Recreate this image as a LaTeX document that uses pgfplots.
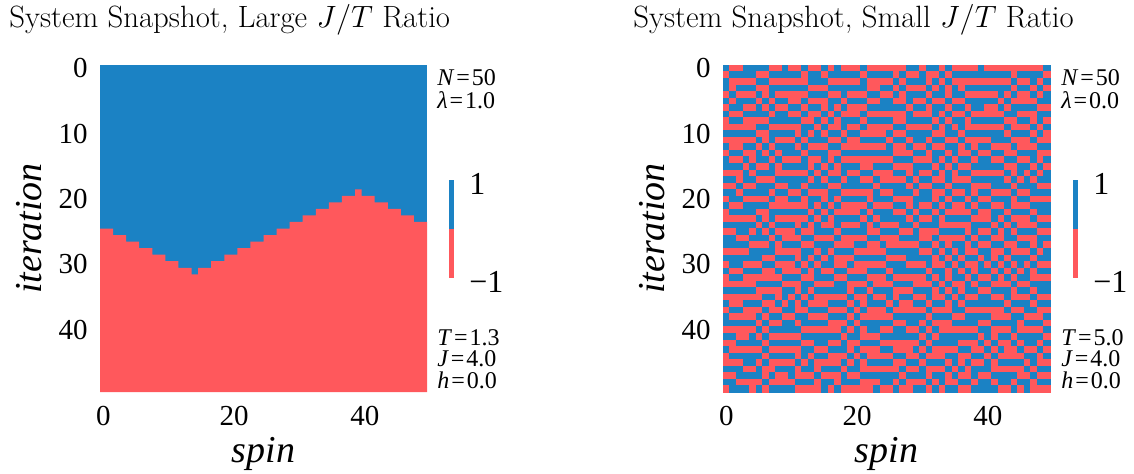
\documentclass[border=0pt]{standalone}
\usepackage{fix-cm}
\usepackage{fontspec}
\usepackage{pgfplots}
\usepackage{pgfplotstable}
\pgfplotsset{compat=1.18}
\newfontfamily\tms{Liberation Serif}
\definecolor{spinblue}{RGB}{27,130,196}
\definecolor{spinred}{RGB}{255,88,92}

% small J/T run: one line per iteration, one column per spin
\pgfplotstableread[header=false]{
1 -1 -1 1 1 1 1 -1 -1 1 -1 -1 1 -1 -1 1 -1 1 -1 -1 -1 1 -1 -1 -1 -1 -1 -1 1 1 -1 1 1 -1 1 -1 -1 -1 -1 1 -1 -1 -1 -1 -1 -1 -1 -1 -1 1
-1 1 1 1 1 -1 -1 1 1 1 1 1 -1 1 1 -1 1 1 1 1 1 -1 1 1 1 1 -1 1 -1 -1 1 -1 -1 1 -1 1 1 1 1 1 1 1 1 1 -1 1 1 1 1 -1
1 -1 -1 -1 -1 1 1 -1 -1 -1 -1 -1 -1 1 1 1 -1 -1 -1 -1 -1 1 -1 -1 -1 -1 1 -1 1 1 1 -1 1 -1 1 -1 -1 -1 -1 -1 -1 -1 -1 -1 1 -1 -1 1 -1 1
1 -1 1 1 1 -1 -1 1 1 1 1 1 1 -1 -1 -1 1 1 1 1 1 1 -1 -1 1 1 -1 1 -1 -1 -1 1 -1 1 -1 1 -1 1 1 1 1 1 1 1 -1 1 1 -1 1 -1
-1 1 -1 -1 -1 1 -1 1 -1 -1 -1 -1 -1 1 1 1 -1 -1 1 -1 -1 -1 1 1 -1 -1 1 -1 1 1 1 -1 1 1 -1 1 1 -1 -1 -1 -1 -1 1 -1 1 -1 -1 1 -1 1
1 -1 1 1 1 -1 1 -1 1 1 -1 -1 1 -1 -1 -1 1 1 -1 1 1 1 -1 -1 1 1 -1 -1 1 -1 -1 1 -1 -1 1 -1 -1 1 1 1 1 1 -1 1 -1 -1 -1 -1 1 1
-1 1 1 -1 -1 1 -1 1 -1 -1 1 1 -1 1 1 -1 1 -1 1 -1 -1 -1 1 1 1 1 1 1 -1 1 1 -1 1 1 -1 1 1 -1 1 1 -1 -1 1 -1 1 1 1 1 -1 -1
1 -1 -1 1 1 1 1 -1 1 1 -1 -1 1 -1 -1 1 -1 1 -1 -1 -1 1 -1 -1 -1 -1 -1 -1 1 -1 -1 -1 1 -1 1 -1 -1 1 -1 -1 -1 -1 -1 1 1 -1 -1 -1 1 1
-1 1 1 -1 -1 -1 -1 1 1 1 1 1 -1 -1 1 -1 1 -1 1 1 1 -1 1 1 1 1 -1 -1 1 1 1 1 -1 1 -1 1 1 -1 1 1 1 1 1 -1 -1 1 1 -1 1 -1
-1 -1 -1 -1 -1 1 1 -1 -1 -1 -1 -1 1 1 -1 1 -1 -1 1 -1 -1 1 -1 -1 -1 -1 1 1 -1 -1 -1 -1 1 -1 1 -1 1 -1 -1 -1 -1 -1 -1 1 -1 -1 -1 1 -1 1
1 1 1 1 1 -1 -1 1 1 1 1 -1 1 -1 1 -1 1 1 -1 1 1 -1 -1 -1 -1 1 -1 -1 1 1 1 1 -1 -1 1 1 -1 1 1 1 1 1 1 -1 1 1 1 -1 1 -1
-1 -1 -1 -1 -1 1 -1 1 -1 -1 -1 1 -1 1 1 1 -1 -1 1 -1 -1 1 1 1 1 -1 1 1 -1 1 1 -1 1 1 -1 -1 1 -1 -1 -1 -1 1 1 1 -1 -1 -1 1 -1 -1
1 -1 -1 1 1 -1 1 -1 1 1 1 -1 1 -1 -1 -1 1 1 -1 -1 -1 -1 -1 -1 -1 1 -1 -1 1 -1 -1 1 -1 -1 1 1 -1 1 -1 1 1 -1 -1 -1 1 -1 -1 -1 1 1
-1 1 1 -1 -1 1 -1 1 -1 1 1 1 -1 1 1 1 -1 -1 1 1 1 1 1 1 1 1 -1 -1 -1 1 1 -1 1 1 -1 1 -1 -1 1 -1 -1 1 1 -1 -1 1 1 1 -1 -1
1 -1 -1 1 -1 1 1 -1 1 -1 -1 -1 1 -1 -1 1 -1 1 -1 -1 -1 -1 -1 -1 -1 -1 1 1 1 -1 -1 -1 1 -1 1 -1 1 1 -1 1 1 -1 -1 1 1 -1 -1 1 -1 1
1 1 1 -1 1 -1 -1 1 -1 1 1 1 1 -1 1 -1 1 -1 1 1 1 -1 -1 1 1 1 -1 -1 -1 1 1 1 -1 1 -1 1 -1 -1 1 1 1 1 1 -1 -1 1 1 -1 1 -1
-1 -1 -1 1 -1 1 1 1 -1 -1 -1 -1 -1 1 -1 1 -1 -1 1 -1 -1 1 1 -1 -1 -1 1 1 -1 1 -1 -1 1 -1 1 -1 1 1 -1 -1 -1 -1 -1 1 -1 1 -1 1 -1 1
1 1 -1 1 1 -1 -1 -1 1 1 1 1 1 -1 1 -1 1 1 -1 1 1 -1 -1 1 -1 -1 -1 -1 1 -1 1 1 -1 -1 1 -1 -1 -1 1 1 1 1 1 -1 1 -1 1 -1 1 1
-1 -1 1 -1 -1 1 1 1 -1 -1 1 1 -1 1 1 1 -1 -1 1 1 1 1 1 -1 1 1 1 1 -1 1 -1 -1 1 1 -1 1 1 1 -1 -1 -1 1 1 1 -1 1 1 1 -1 -1
1 1 -1 1 1 1 1 -1 1 1 -1 -1 1 -1 -1 -1 1 1 -1 -1 -1 -1 -1 1 -1 -1 1 1 1 -1 1 1 -1 -1 1 -1 -1 1 -1 1 1 -1 -1 -1 1 -1 -1 1 1 1
-1 1 1 -1 -1 -1 -1 1 -1 -1 1 1 -1 1 1 -1 1 -1 1 1 1 1 -1 1 1 1 -1 -1 -1 1 1 1 -1 1 -1 1 1 -1 1 -1 -1 1 1 1 -1 1 1 -1 -1 -1
1 -1 -1 1 1 1 1 -1 -1 -1 -1 -1 -1 1 -1 1 -1 1 -1 -1 -1 -1 1 -1 -1 -1 1 1 -1 1 -1 -1 1 -1 1 -1 -1 1 -1 1 1 -1 -1 1 -1 -1 -1 1 1 1
-1 1 1 1 1 -1 -1 1 1 1 1 1 1 -1 1 -1 1 -1 -1 -1 -1 1 -1 1 1 1 -1 -1 1 -1 1 1 -1 1 -1 -1 -1 -1 1 -1 -1 1 1 -1 1 1 1 -1 1 1
-1 -1 -1 -1 -1 1 -1 1 -1 -1 -1 -1 -1 1 -1 1 -1 1 1 1 1 -1 1 -1 1 1 1 1 -1 1 -1 -1 1 -1 1 1 1 1 -1 -1 -1 1 -1 1 -1 -1 -1 1 -1 -1
1 1 1 1 1 -1 1 -1 1 1 1 -1 1 -1 1 -1 -1 1 -1 -1 -1 1 -1 1 -1 -1 -1 1 1 -1 1 1 1 -1 -1 -1 -1 -1 1 1 1 -1 1 -1 1 -1 -1 -1 1 1
-1 -1 1 1 -1 1 -1 1 -1 -1 -1 1 -1 -1 1 1 1 -1 1 1 1 1 -1 -1 1 1 1 -1 -1 1 -1 -1 -1 1 1 1 1 -1 1 -1 -1 1 -1 1 -1 1 1 1 -1 -1
1 1 -1 -1 1 1 1 -1 1 -1 -1 -1 1 1 -1 -1 -1 1 -1 -1 -1 -1 1 1 -1 -1 -1 1 1 1 -1 -1 1 -1 -1 -1 -1 1 -1 1 1 -1 -1 1 1 -1 -1 -1 1 1
1 1 1 1 -1 -1 -1 1 -1 1 1 1 -1 -1 1 1 1 -1 -1 -1 1 1 -1 -1 1 -1 -1 -1 -1 -1 1 1 -1 1 -1 1 1 -1 1 -1 -1 1 1 -1 -1 1 1 -1 1 -1
-1 -1 -1 -1 1 1 1 1 -1 -1 -1 -1 1 1 -1 1 -1 1 1 1 -1 -1 -1 -1 -1 1 1 1 1 1 -1 -1 1 -1 1 -1 1 -1 -1 1 1 -1 -1 1 -1 -1 -1 1 -1 1
1 1 1 1 1 1 -1 -1 1 1 1 -1 1 -1 1 -1 1 -1 -1 -1 1 1 1 1 1 -1 -1 -1 1 1 1 1 -1 1 -1 1 -1 1 1 -1 1 -1 1 -1 1 1 1 -1 1 1
-1 1 1 -1 -1 -1 1 1 -1 -1 -1 1 -1 1 -1 1 1 -1 -1 1 -1 -1 -1 -1 -1 1 1 1 -1 -1 -1 1 -1 -1 1 -1 1 -1 -1 1 -1 1 -1 1 -1 1 -1 1 -1 -1
1 -1 -1 1 1 1 -1 -1 1 -1 -1 -1 1 -1 1 -1 -1 1 1 -1 -1 -1 1 1 1 -1 1 1 1 1 1 -1 1 1 -1 1 -1 1 -1 1 1 -1 1 -1 1 -1 1 -1 1 1
-1 1 1 -1 -1 -1 -1 -1 -1 1 1 1 -1 -1 1 1 1 -1 -1 1 1 1 -1 -1 -1 1 -1 -1 -1 -1 -1 1 -1 1 -1 1 1 -1 1 -1 -1 1 -1 1 -1 1 1 -1 -1 -1
-1 -1 -1 -1 -1 1 1 1 1 -1 -1 -1 1 1 -1 -1 -1 1 1 -1 -1 -1 1 -1 -1 -1 1 1 1 -1 -1 -1 1 -1 1 -1 -1 1 -1 1 1 -1 -1 -1 1 -1 -1 1 1 1
1 1 1 1 1 -1 -1 -1 -1 1 1 -1 1 -1 1 1 1 1 1 -1 1 1 -1 1 1 1 -1 -1 -1 1 1 1 -1 1 -1 1 -1 1 1 -1 -1 1 1 1 -1 1 1 -1 1 1
-1 -1 -1 -1 -1 -1 1 1 -1 1 -1 1 -1 1 -1 -1 -1 -1 -1 1 -1 -1 1 -1 -1 1 -1 1 1 -1 -1 1 -1 -1 1 -1 1 -1 -1 1 1 -1 -1 1 -1 -1 -1 1 -1 -1
1 -1 -1 1 1 1 -1 -1 1 -1 1 -1 1 -1 -1 -1 1 1 1 -1 1 -1 1 1 1 -1 1 -1 -1 1 1 -1 1 1 -1 1 -1 1 1 1 1 1 1 -1 1 1 1 -1 1 1
-1 1 1 -1 -1 -1 1 -1 -1 1 1 -1 -1 1 1 1 -1 -1 -1 1 -1 1 -1 -1 -1 1 -1 -1 -1 -1 -1 1 -1 -1 -1 1 1 -1 -1 -1 -1 -1 -1 1 -1 -1 1 1 -1 -1
1 -1 -1 -1 -1 1 -1 1 1 -1 -1 1 1 -1 -1 -1 1 1 1 -1 1 -1 -1 -1 -1 -1 1 1 1 1 1 -1 1 1 1 -1 -1 1 1 1 1 -1 -1 -1 1 1 -1 -1 -1 1
1 1 1 1 1 -1 1 -1 -1 1 1 -1 1 1 1 1 -1 -1 -1 1 -1 1 1 1 1 1 -1 -1 1 1 -1 1 -1 -1 -1 1 1 1 1 -1 -1 1 1 1 1 -1 1 1 1 -1
-1 -1 -1 -1 -1 1 -1 1 1 1 1 1 -1 -1 -1 -1 -1 -1 1 -1 1 -1 1 1 -1 -1 1 1 -1 -1 1 -1 1 -1 -1 -1 -1 -1 -1 1 1 -1 -1 -1 1 -1 -1 -1 -1 1
1 1 -1 -1 1 -1 1 -1 -1 -1 -1 -1 1 1 1 1 1 1 -1 1 1 -1 -1 -1 1 1 1 1 1 1 -1 1 -1 1 1 1 1 1 1 -1 1 -1 1 1 -1 1 1 1 1 -1
-1 -1 1 1 1 1 -1 1 1 1 1 1 -1 -1 1 1 -1 -1 1 -1 -1 1 1 1 -1 -1 -1 -1 -1 -1 1 -1 1 1 1 1 -1 -1 -1 1 -1 1 -1 -1 1 -1 1 1 -1 1
1 -1 -1 -1 -1 -1 1 -1 -1 -1 -1 -1 1 1 -1 -1 1 1 1 -1 1 -1 -1 -1 1 1 -1 -1 -1 1 -1 1 -1 -1 -1 -1 1 1 -1 -1 1 -1 1 -1 -1 1 -1 -1 1 -1
-1 1 1 1 1 1 -1 1 1 1 1 -1 1 -1 1 1 -1 -1 -1 1 -1 1 -1 -1 -1 -1 1 1 -1 -1 1 -1 -1 -1 1 1 -1 -1 1 1 -1 1 -1 -1 -1 -1 1 1 -1 1
-1 -1 -1 1 1 -1 1 -1 -1 -1 -1 1 -1 1 -1 -1 -1 -1 1 -1 1 -1 1 1 1 1 -1 -1 1 1 -1 1 1 1 -1 1 -1 1 -1 -1 1 -1 1 1 1 1 -1 1 -1 -1
1 1 1 -1 -1 1 -1 -1 1 1 1 -1 1 1 -1 1 1 1 -1 1 1 -1 -1 -1 -1 -1 -1 1 -1 -1 1 -1 -1 -1 1 -1 1 -1 1 1 1 -1 -1 -1 -1 -1 1 -1 1 1
-1 -1 1 1 1 1 -1 1 -1 -1 1 -1 -1 -1 1 -1 -1 -1 1 -1 -1 1 1 1 1 1 1 -1 1 1 1 -1 1 1 -1 1 -1 -1 1 -1 -1 1 1 1 1 -1 -1 1 -1 -1
1 1 -1 -1 -1 -1 1 -1 -1 -1 -1 1 1 1 -1 1 1 -1 1 1 1 -1 -1 -1 1 1 -1 1 -1 -1 -1 1 -1 1 -1 -1 1 1 -1 1 1 -1 1 1 -1 1 1 -1 1 1
-1 1 1 1 -1 1 -1 1 1 1 1 -1 -1 -1 -1 1 -1 1 -1 -1 -1 -1 -1 1 -1 -1 1 -1 -1 1 1 -1 1 -1 1 1 -1 -1 1 1 1 1 -1 -1 1 -1 1 -1 -1 -1
}\spinsR

\pgfplotsset{
  snap/.style={
    scale only axis, width=163.5pt, height=163.5pt,
    xmin=-0.5, xmax=49.5, ymin=-0.5, ymax=49.5, y dir=reverse,
    axis line style={draw=none}, tick style={draw=none}, major tick length=0pt,
    xtick={0,20,40}, ytick={0,10,20,30,40},
    /pgf/number format/assume math mode=true,
    tick label style={font=\tms\fontsize{14.5}{16}\selectfont, inner sep=0pt},
    xticklabel style={anchor=base, yshift=-16.5pt},
    yticklabel style={anchor=east, xshift=-6pt},
    xlabel={spin}, ylabel={iteration},
    label style={font=\tms\itshape\fontsize{19}{22}\selectfont, inner sep=0pt},
    xlabel style={at={(axis description cs:0.5,-0.2141)}, anchor=base},
    ylabel style={at={(axis description cs:-0.2171,0.5)}, anchor=center},
    colormap={spin}{rgb255=(255,88,92) rgb255=(27,130,196)},
    point meta min=-1, point meta max=1,
  },
  cbar/.style={
    scale only axis, width=2.5pt, height=49pt,
    xmin=0, xmax=1, ymin=-1, ymax=1,
    axis line style={draw=none}, tick style={draw=none}, major tick length=0pt,
    xtick=\empty, ytick={-1,1}, yticklabels={−1,1}, yticklabel pos=right,
    yticklabel style={font=\tms\fontsize{16}{18}\selectfont, anchor=west,
      inner sep=0pt, xshift=7.5pt, yshift=-2pt},
  },
}
\newcommand\eqs{\hspace{0.08em}=\hspace{0.08em}}

\begin{document}
\begin{tikzpicture}
\useasboundingbox (0,0) rectangle (567pt,-236.5pt);

% ---- left: large J/T ----
\begin{axis}[snap, at={(50pt,-32.5pt)}, anchor=north west]
\addplot[fill=spinblue, draw=none] coordinates {(-0.5,-0.5) (49.5,-0.5) (49.5,49.5) (-0.5,49.5)};
% domain wall: first red row of each column (cell edges)
\addplot[const plot, fill=spinred, draw=none] coordinates {
  (-0.5,24.5) (1.5,25.5) (3.5,26.5) (5.5,27.5) (7.5,28.5) (9.5,29.5)
  (11.5,30.5) (13.5,31.5) (14.5,30.5) (16.5,29.5) (18.5,28.5) (20.5,27.5)
  (22.5,26.5) (24.5,25.5) (26.5,24.5) (28.5,23.5) (30.5,22.5) (32.5,21.5)
  (34.5,20.5) (36.5,19.5) (38.5,18.5) (39.5,19.5) (41.5,20.5) (43.5,21.5)
  (45.5,22.5) (47.5,23.5) (49.5,23.5) (49.5,49.5) (-0.5,49.5)};
\end{axis}
\begin{axis}[cbar, at={(224.5pt,-90pt)}, anchor=north west]
\addplot[fill=spinred, draw=none] coordinates {(0,-1) (1,-1) (1,0) (0,0)};
\addplot[fill=spinblue, draw=none] coordinates {(0,0) (1,0) (1,1) (0,1)};
\end{axis}

% ---- right: small J/T ----
\begin{axis}[snap, at={(361.5pt,-32.5pt)}, anchor=north west]
\pgfplotsinvokeforeach{0,...,49}{
  \addplot[scatter, only marks, mark=square*, mark size=1.6pt, line width=0.2pt,
    point meta=explicit,
    scatter/use mapped color={draw=mapped color, fill=mapped color}]
    table[x expr=#1, y expr=\coordindex, meta index=#1] {\spinsR};
}
\end{axis}
\begin{axis}[cbar, at={(536.5pt,-90pt)}, anchor=north west]
\addplot[fill=spinred, draw=none] coordinates {(0,-1) (1,-1) (1,0) (0,0)};
\addplot[fill=spinblue, draw=none] coordinates {(0,0) (1,0) (1,1) (0,1)};
\end{axis}

% titles
\node[anchor=base west, inner sep=0pt, font=\fontsize{15.4}{18}\selectfont]
  at (4.5pt,-13.5pt) {System Snapshot, Large $J/T$ Ratio};
\node[anchor=base west, inner sep=0pt, font=\fontsize{15.4}{18}\selectfont]
  at (316.5pt,-13.5pt) {System Snapshot, Small $J/T$ Ratio};

% parameters
\begin{scope}[every node/.style={anchor=base west, inner sep=0pt,
    text height=8pt, text depth=1pt, font=\tms\fontsize{12}{13}\selectfont}]
\node at (218.5pt,-42.5pt) {\textit{N}\eqs50};
\node at (218.5pt,-54pt) {\textit{λ}\eqs1.0};
\node at (218.5pt,-172.5pt) {\textit{T}\eqs1.3};
\node at (218.5pt,-183pt) {\textit{J}\eqs4.0};
\node at (218.5pt,-194pt) {\textit{h}\eqs0.0};
\node at (530.5pt,-42.5pt) {\textit{N}\eqs50};
\node at (530.5pt,-54pt) {\textit{λ}\eqs0.0};
\node at (530.5pt,-172.5pt) {\textit{T}\eqs5.0};
\node at (530.5pt,-183pt) {\textit{J}\eqs4.0};
\node at (530.5pt,-194pt) {\textit{h}\eqs0.0};
\end{scope}
\end{tikzpicture}
\end{document}
